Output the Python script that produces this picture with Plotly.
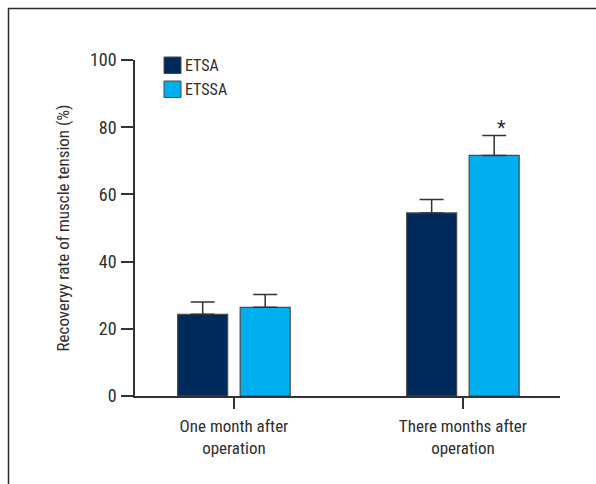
import plotly.graph_objects as go

categories = ["One month after<br>operation", "There months after<br>operation"]
series_names = ["ETSA", "ETSSA"]
series_colors = ["#002a5c", "#00adee"]
etsa_values = [24.3, 54.5]
etsa_errors = [3.7, 4.0]
etssa_values = [26.4, 71.6]
etssa_errors = [3.8, 5.9]
y_ticks = [0, 20, 40, 60, 80, 100]

FONT = "Roboto Condensed, Liberation Sans Narrow, sans-serif"
TEXT_COLOR = "#2e2e2e"
AXIS_COLOR = "#333333"
OUTLINE = "#4a4a4a"

fig = go.Figure()
for name, color, vals, errs in [
    (series_names[0], series_colors[0], etsa_values, etsa_errors),
    (series_names[1], series_colors[1], etssa_values, etssa_errors),
]:
    fig.add_trace(go.Bar(
        name=name, x=[0, 1], y=vals,
        marker=dict(color=color, line=dict(color=OUTLINE, width=1.2)),
        error_y=dict(type="data", array=errs, arrayminus=[0] * len(errs), symmetric=False,
                     color=AXIS_COLOR, thickness=1.5, width=12),
        showlegend=False,
    ))

# significance marker above the second ETSSA bar
fig.add_annotation(x=1.168, y=etssa_values[1] + etssa_errors[1], xref="x", yref="y",
                   text="*", showarrow=False, yanchor="bottom", yshift=-6,
                   font=dict(family=FONT, size=20, color=TEXT_COLOR))

L, R, T, B = 135, 36, 60, 88
W, H = 596, 484
pw, ph = W - L - R, H - T - B


def px_x(p):
    return (p - L) / pw


def px_y(p):
    return (H - B - p) / ph


# legend: coloured squares with labels
for i, (name, color) in enumerate(zip(series_names, series_colors)):
    top = 57 + 24 * i
    fig.add_shape(type="rect", xref="paper", yref="paper",
                  x0=px_x(164), x1=px_x(181), y0=px_y(top), y1=px_y(top + 16.5),
                  fillcolor=color, line=dict(color=OUTLINE, width=1))
    fig.add_annotation(x=px_x(183), y=px_y(top + 8.5), xref="paper", yref="paper",
                       text=name, showarrow=False, xanchor="left", yanchor="middle",
                       font=dict(family=FONT, size=16, color=TEXT_COLOR))

# partial frame along the top and left edges
fig.add_shape(type="line", xref="paper", yref="paper",
              x0=px_x(8), x1=px_x(W + 5), y0=px_y(8.5), y1=px_y(8.5),
              line=dict(color="#2a2a2a", width=1.5))
fig.add_shape(type="line", xref="paper", yref="paper",
              x0=px_x(8.5), x1=px_x(8.5), y0=px_y(8), y1=px_y(H + 5),
              line=dict(color="#2a2a2a", width=1.5))

fig.update_layout(
    width=W, height=H,
    margin=dict(l=L, r=R, t=T, b=B),
    paper_bgcolor="white", plot_bgcolor="white",
    barmode="group", bargap=0.454, bargroupgap=0.2,
    font=dict(family=FONT, color=TEXT_COLOR),
    showlegend=False,
    xaxis=dict(range=[-0.432, 1.424], tickvals=[0, 1], ticktext=categories,
               showline=True, linecolor=AXIS_COLOR, linewidth=1.5,
               ticks="outside", ticklen=11, tickwidth=1.5, tickcolor=AXIS_COLOR,
               ticklabelstandoff=3,
               tickfont=dict(family=FONT, size=17, color=TEXT_COLOR),
               showgrid=False, zeroline=False),
    yaxis=dict(range=[0, 100], tickvals=y_ticks,
               showline=True, linecolor=AXIS_COLOR, linewidth=1.5,
               ticks="outside", ticklen=12, tickwidth=1.5, tickcolor=AXIS_COLOR,
               ticklabelstandoff=1,
               tickfont=dict(family=FONT, size=18, color=TEXT_COLOR),
               title=dict(text="Recoveryy rate of muscle tension (%)", standoff=16,
                          font=dict(family=FONT, size=17, color=TEXT_COLOR)),
               showgrid=False, zeroline=False),
)

fig.write_html("out.html")
